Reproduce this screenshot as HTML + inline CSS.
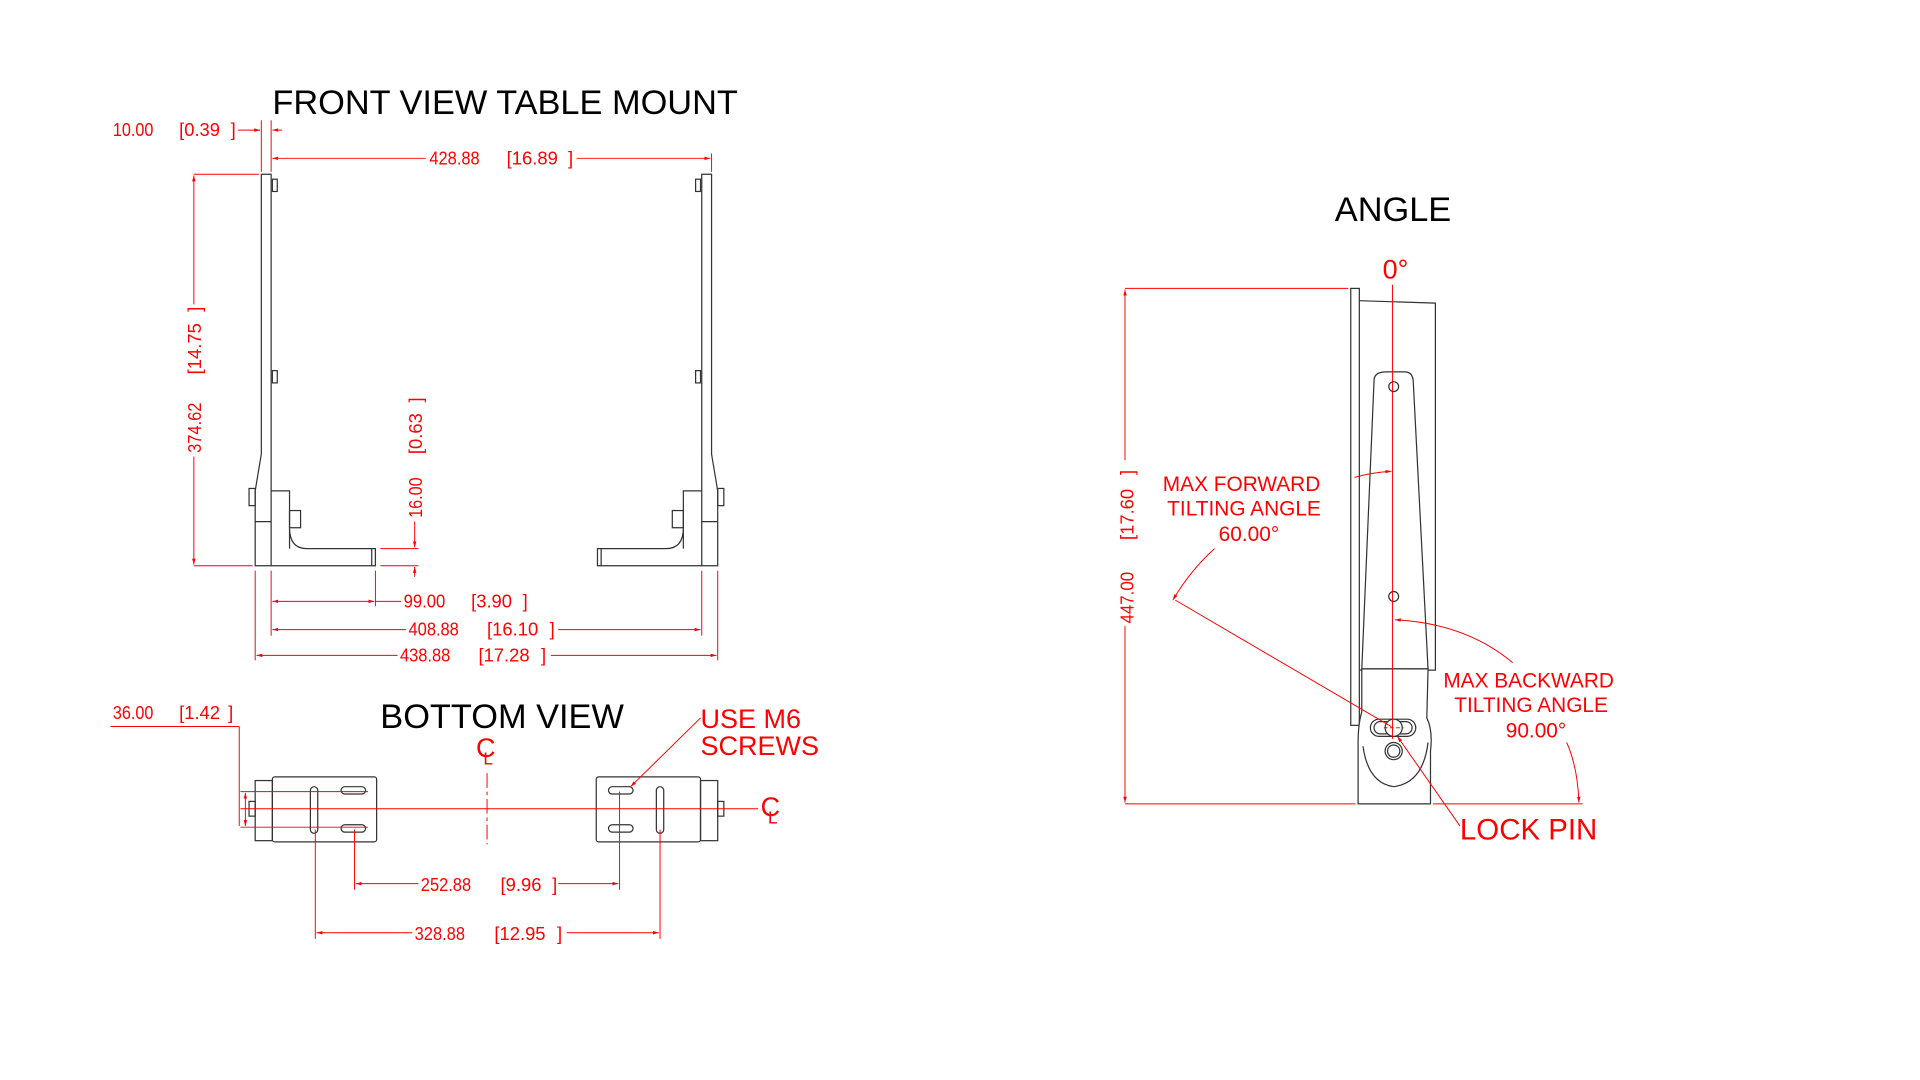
<!DOCTYPE html>
<html><head><meta charset="utf-8"><style>
html,body{margin:0;padding:0;background:#fff;width:1920px;height:1080px;overflow:hidden}
svg{display:block}
.k{stroke:#333;stroke-width:1;fill:none}
.kf{stroke:#333;stroke-width:1;fill:#fff}
.r{stroke:#f00;stroke-width:0.8;fill:none}
.t{fill:#f00;font-family:"Liberation Sans",sans-serif;font-size:15px}
.T{fill:#000;font-family:"Liberation Sans",sans-serif;font-size:28px}
</style></head><body>
<svg width="1920" height="1080" viewBox="0 0 1565 880" preserveAspectRatio="none" xmlns="http://www.w3.org/2000/svg">
<defs>
<marker id="a" viewBox="0 0 10 10" refX="10" refY="5" markerWidth="6" markerHeight="6" orient="auto-start-reverse"><path d="M0,2 L10,5 L0,8z" fill="#f00"/></marker>
</defs>

<text class="T" x="222" y="93">FRONT VIEW TABLE MOUNT</text>
<path class="k" d="M213,142 H221 V461 H208 V400 L213,370 Z"/>
<line class="k" x1="208" y1="425" x2="221" y2="425"/>
<path class="k" d="M221,400 H236 V447 M236,430 Q236,447 250,447 H306 V461 H221"/>
<line class="k" x1="303" y1="447" x2="303" y2="461"/>
<rect class="k" x="203" y="398" width="5" height="14"/>
<rect class="k" x="236" y="416" width="9" height="14"/>
<rect class="k" x="222" y="146" width="4" height="10"/>
<rect class="k" x="222" y="302" width="4" height="10"/>
<g transform="translate(793,0) scale(-1,1)">
<path class="k" d="M213,142 H221 V461 H208 V400 L213,370 Z"/>
<line class="k" x1="208" y1="425" x2="221" y2="425"/>
<path class="k" d="M221,400 H236 V447 M236,430 Q236,447 250,447 H306 V461 H221"/>
<line class="k" x1="303" y1="447" x2="303" y2="461"/>
<rect class="k" x="203" y="398" width="5" height="14"/>
<rect class="k" x="236" y="416" width="9" height="14"/>
<rect class="k" x="222" y="146" width="4" height="10"/>
<rect class="k" x="222" y="302" width="4" height="10"/>
</g>
<text class="t" x="92" y="111" textLength="33" lengthAdjust="spacingAndGlyphs">10.00</text>
<text class="t" x="146" y="111">[0.39</text><text class="t" x="188" y="111">]</text>
<line class="r" x1="194" y1="106" x2="212" y2="106" marker-end="url(#a)"/>
<line class="r" x1="230" y1="106" x2="222" y2="106" marker-end="url(#a)"/>
<line class="r" x1="213" y1="98" x2="213" y2="140"/><line class="r" x1="221" y1="98" x2="221" y2="140"/>
<line class="r" x1="222" y1="129" x2="347" y2="129" marker-start="url(#a)"/>
<line class="r" x1="470" y1="129" x2="579" y2="129" marker-end="url(#a)"/>
<line class="r" x1="580" y1="125" x2="580" y2="140"/>
<text class="t" x="350" y="134" textLength="41" lengthAdjust="spacingAndGlyphs">428.88</text>
<text class="t" x="413" y="134">[16.89</text><text class="t" x="463" y="134">]</text>
<line class="r" x1="158" y1="142" x2="211" y2="142"/><line class="r" x1="158" y1="461" x2="206" y2="461"/>
<line class="r" x1="158" y1="143" x2="158" y2="248" marker-start="url(#a)"/>
<line class="r" x1="158" y1="372" x2="158" y2="460" marker-end="url(#a)"/>
<text class="t" transform="translate(164,369) rotate(-90)" textLength="41" lengthAdjust="spacingAndGlyphs">374.62</text>
<text class="t" transform="translate(164,305) rotate(-90)">[14.75</text><text class="t" transform="translate(164,254) rotate(-90)">]</text>
<line class="r" x1="310" y1="447" x2="341" y2="447"/><line class="r" x1="310" y1="461" x2="341" y2="461"/>
<line class="r" x1="338" y1="425" x2="338" y2="446" marker-end="url(#a)"/>
<line class="r" x1="338" y1="470" x2="338" y2="462" marker-end="url(#a)"/>
<text class="t" transform="translate(344,422) rotate(-90)" textLength="33" lengthAdjust="spacingAndGlyphs">16.00</text>
<text class="t" transform="translate(344,370) rotate(-90)">[0.63</text><text class="t" transform="translate(344,328) rotate(-90)">]</text>
<line class="r" x1="221" y1="465" x2="221" y2="518"/><line class="r" x1="306" y1="465" x2="306" y2="494"/>
<line class="r" x1="208" y1="465" x2="208" y2="538"/><line class="r" x1="572" y1="465" x2="572" y2="518"/><line class="r" x1="585" y1="465" x2="585" y2="538"/>
<line class="r" x1="222" y1="490" x2="305" y2="490" marker-start="url(#a)" marker-end="url(#a)"/>
<line class="r" x1="306" y1="490" x2="327" y2="490"/>
<text class="t" x="329" y="495" textLength="34" lengthAdjust="spacingAndGlyphs">99.00</text>
<text class="t" x="384" y="495">[3.90</text><text class="t" x="426" y="495">]</text>
<line class="r" x1="222" y1="513" x2="331" y2="513" marker-start="url(#a)"/>
<line class="r" x1="455" y1="513" x2="571" y2="513" marker-end="url(#a)"/>
<text class="t" x="333" y="518" textLength="41" lengthAdjust="spacingAndGlyphs">408.88</text>
<text class="t" x="397" y="518">[16.10</text><text class="t" x="448" y="518">]</text>
<line class="r" x1="209" y1="534" x2="324" y2="534" marker-start="url(#a)"/>
<line class="r" x1="449" y1="534" x2="584" y2="534" marker-end="url(#a)"/>
<text class="t" x="326" y="539" textLength="41" lengthAdjust="spacingAndGlyphs">438.88</text>
<text class="t" x="390" y="539">[17.28</text><text class="t" x="441" y="539">]</text>

<text class="T" x="310" y="593">BOTTOM VIEW</text>
<text class="t" x="388" y="617" style="font-size:22px">C</text><text class="t" x="394" y="623" style="font-size:14px">L</text>
<text class="t" x="620" y="665" style="font-size:22px">C</text><text class="t" x="626" y="671" style="font-size:14px">L</text>
<g>
<rect class="k" x="208" y="636" width="14" height="49"/>
<rect class="k" x="222" y="633" width="85" height="53" rx="2"/>
<rect class="k" x="203" y="653" width="5" height="12"/>
<rect class="k" x="253" y="641" width="6" height="38" rx="3"/>
<rect class="k" x="278" y="641" width="20" height="6" rx="3"/>
<rect class="k" x="278" y="672" width="20" height="6" rx="3"/>
</g>
<g>
<rect class="k" x="571" y="636" width="14" height="49"/>
<rect class="k" x="486" y="633" width="85" height="53" rx="2"/>
<rect class="k" x="585" y="653" width="5" height="12"/>
<rect class="k" x="535" y="641" width="6" height="38" rx="3"/>
<rect class="k" x="496" y="641" width="20" height="6" rx="3"/>
<rect class="k" x="496" y="672" width="20" height="6" rx="3"/>
</g>
<line class="r" x1="196" y1="659" x2="618" y2="659"/>
<line class="r" x1="397" y1="630" x2="397" y2="688" stroke-dasharray="12,3,3,3"/>
<text class="t" x="92" y="586" textLength="33" lengthAdjust="spacingAndGlyphs">36.00</text>
<text class="t" x="146" y="586">[1.42</text><text class="t" x="186" y="586">]</text>
<line class="r" x1="90" y1="592" x2="195" y2="592"/>
<line class="r" x1="195" y1="592" x2="195" y2="673"/>
<line class="r" x1="200" y1="646" x2="200" y2="673" marker-start="url(#a)" marker-end="url(#a)"/>
<line class="r" x1="196" y1="645" x2="300" y2="645"/><line class="r" x1="196" y1="674" x2="300" y2="674"/>
<line class="r" x1="289" y1="676" x2="289" y2="725"/><line class="r" x1="505" y1="645" x2="505" y2="725"/>
<line class="r" x1="257" y1="676" x2="257" y2="765"/><line class="r" x1="538" y1="676" x2="538" y2="765"/>
<line class="r" x1="290" y1="720" x2="341" y2="720" marker-start="url(#a)"/>
<line class="r" x1="455" y1="720" x2="504" y2="720" marker-end="url(#a)"/>
<text class="t" x="343" y="726" textLength="41" lengthAdjust="spacingAndGlyphs">252.88</text>
<text class="t" x="408" y="726">[9.96</text><text class="t" x="450" y="726">]</text>
<line class="r" x1="258" y1="760" x2="336" y2="760" marker-start="url(#a)"/>
<line class="r" x1="462" y1="760" x2="537" y2="760" marker-end="url(#a)"/>
<text class="t" x="338" y="766" textLength="41" lengthAdjust="spacingAndGlyphs">328.88</text>
<text class="t" x="403" y="766">[12.95</text><text class="t" x="454" y="766">]</text>
<text class="t" x="571" y="593" style="font-size:22px">USE M6</text>
<text class="t" x="571" y="615" style="font-size:22px">SCREWS</text>
<line class="r" x1="571" y1="585" x2="514" y2="641" marker-end="url(#a)"/>

<text class="T" x="1088" y="180">ANGLE</text>
<text class="t" x="1127" y="227" style="font-size:22px">0°</text>
<rect class="k" x="1101" y="235" width="7" height="356"/>
<path class="k" d="M1108,245 L1170,247 V546 H1108"/>
<path class="k" d="M1120,310 Q1120,303 1130,303 H1145 Q1152,303 1152,312 L1164,545 H1110 Z"/>
<path class="kf" d="M1110,545 H1164 L1163,585 Q1168,595 1166,612 V655 H1107 V605 Q1107,590 1110,580 Z"/>
<path class="k" d="M1111,608 Q1115,638 1136,641 Q1160,638 1164,605"/>
<rect class="k" x="1117" y="586" width="37" height="14" rx="7"/>
<rect class="k" x="1120" y="588" width="31" height="10" rx="5"/>
<circle class="kf" cx="1136" cy="593" r="7"/>
<circle class="k" cx="1136" cy="612" r="7"/><circle class="k" cx="1136" cy="612" r="5"/>
<circle class="k" cx="1136" cy="315" r="4"/><circle class="k" cx="1136" cy="486" r="4"/>
<line class="r" x1="1135" y1="232" x2="1135" y2="602"/>
<line class="r" x1="1128" y1="593" x2="1144" y2="593" stroke-dasharray="3,2"/>
<line class="r" x1="917" y1="235" x2="1099" y2="235"/>
<line class="r" x1="917" y1="655" x2="1105" y2="655"/><line class="r" x1="1168" y1="655" x2="1290" y2="655"/>
<line class="r" x1="917" y1="236" x2="917" y2="375" marker-start="url(#a)"/>
<line class="r" x1="917" y1="510" x2="917" y2="654" marker-end="url(#a)"/>
<text class="t" transform="translate(924,508) rotate(-90)" textLength="42" lengthAdjust="spacingAndGlyphs">447.00</text>
<text class="t" transform="translate(924,440) rotate(-90)">[17.60</text><text class="t" transform="translate(924,387) rotate(-90)">]</text>
<path class="r" d="M1104,389 Q1118,385 1134,384" marker-end="url(#a)"/>
<g class="t" style="font-size:17px" text-anchor="middle">
<text x="1012" y="400">MAX FORWARD</text>
<text x="1014" y="420">TILTING ANGLE</text>
<text x="1018" y="441">60.00°</text>
<text x="1246" y="560">MAX BACKWARD</text>
<text x="1248" y="580">TILTING ANGLE</text>
<text x="1252" y="601">90.00°</text>
</g>
<path class="r" d="M990,447 Q970,465 956,489" marker-end="url(#a)"/>
<line class="r" x1="958" y1="489" x2="1134" y2="592"/>
<path class="r" d="M1233,540 Q1195,508 1137,505" marker-end="url(#a)"/>
<path class="r" d="M1277,605 Q1286,625 1287,654" marker-end="url(#a)"/>
<text class="t" x="1190" y="684" style="font-size:24px">LOCK PIN</text>
<line class="r" x1="1190" y1="673" x2="1139" y2="600" marker-end="url(#a)"/>
</svg>
</body></html>
